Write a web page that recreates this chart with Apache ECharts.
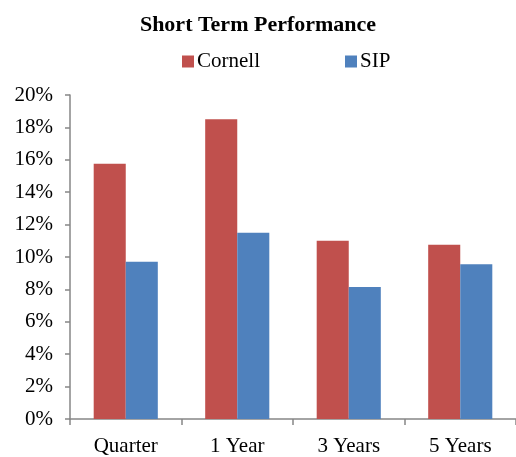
<!DOCTYPE html>
<html>
<head>
<meta charset="utf-8">
<script src="https://cdn.jsdelivr.net/npm/echarts@6/dist/echarts.min.js"></script>
<style>
  html, body { margin: 0; padding: 0; background: #fff; }
  #chart { width: 516px; height: 457px; }
</style>
</head>
<body>
<div id="chart"></div>
<script>
const categories = ['Quarter', '1 Year', '3 Years', '5 Years'];
const cornell = [15.75, 18.5, 11.0, 10.75];
const sip = [9.7, 11.5, 8.15, 9.55];

const font = '"Liberation Serif", "Times New Roman", serif';
const axisGray = '#868686';

const chart = echarts.init(document.getElementById('chart'));

chart.setOption({
  animation: false,
  title: {
    text: 'Short Term Performance',
    left: 'center',
    top: 9,
    textStyle: { fontFamily: font, fontSize: 22, fontWeight: 'bold', color: '#000' }
  },
  legend: {
    top: 46,
    left: 177,
    itemWidth: 12,
    itemHeight: 12,
    itemGap: 85,
    icon: 'rect',
    textStyle: { fontFamily: font, fontSize: 21, color: '#000', padding: [0, 0, 0, -2] },
    data: ['Cornell', 'SIP']
  },
  grid: { left: 70, right: 0, top: 95, bottom: 35 },
  xAxis: {
    type: 'category',
    data: categories,
    axisLine: { lineStyle: { color: axisGray, width: 1.5 } },
    axisTick: { show: true, length: 6, lineStyle: { color: axisGray, width: 1.5 } },
    axisLabel: { fontFamily: font, fontSize: 21, color: '#000', margin: 17 }
  },
  yAxis: {
    type: 'value',
    min: 0,
    max: 20,
    interval: 2,
    splitLine: { show: false },
    axisLine: { show: true, lineStyle: { color: axisGray, width: 1.5 } },
    axisTick: { show: true, length: 5, lineStyle: { color: axisGray, width: 1.5 } },
    axisLabel: {
      fontFamily: font, fontSize: 21, color: '#000', margin: 17,
      formatter: v => v + '%'
    }
  },
  series: [
    {
      name: 'Cornell',
      type: 'bar',
      data: cornell,
      barGap: '0%',
      barCategoryGap: '42.5%',
      itemStyle: { color: '#C0504D' }
    },
    {
      name: 'SIP',
      type: 'bar',
      data: sip,
      barGap: '0%',
      barCategoryGap: '42.5%',
      itemStyle: { color: '#4F81BD' }
    }
  ]
});
</script>
</body>
</html>
